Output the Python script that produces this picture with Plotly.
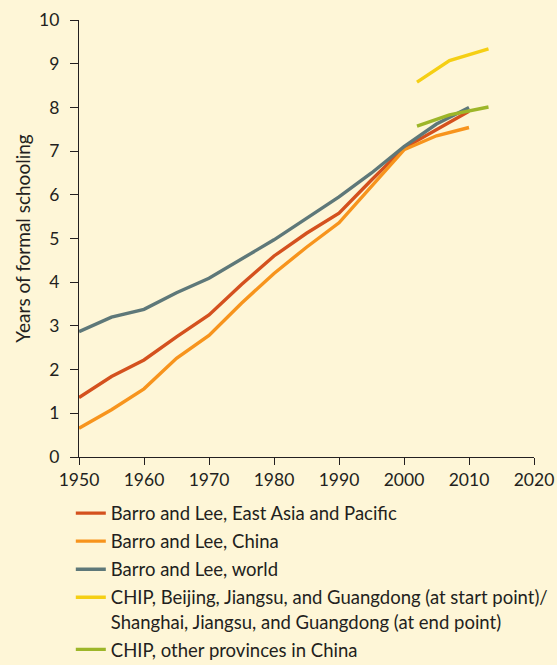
import plotly.graph_objects as go

# Años de la serie Barro y Lee (cada 5 años)
anios_bl = [1950, 1955, 1960, 1965, 1970, 1975, 1980, 1985, 1990, 1995, 2000, 2005, 2010]
asia_este = [1.36, 1.84, 2.22, 2.75, 3.25, 3.95, 4.6, 5.12, 5.58, 6.34, 7.07, 7.49, 7.91]
china = [0.66, 1.08, 1.56, 2.26, 2.78, 3.52, 4.2, 4.8, 5.36, 6.19, 7.03, 7.35, 7.54]
mundo = [2.87, 3.2, 3.38, 3.76, 4.09, 4.52, 4.97, 5.46, 5.95, 6.5, 7.1, 7.62, 8.0]

# Encuestas CHIP
anios_chip = [2002, 2007, 2013]
chip_costa = [8.58, 9.07, 9.34]
chip_otras = [7.57, 7.83, 8.01]

FONDO = "#FEF6D7"
TEXTO = "#231F20"
FUENTE = "Lato"

series = [
    ("Barro and Lee, East Asia and Pacific", anios_bl, asia_este, "#D4511E"),
    ("Barro and Lee, China", anios_bl, china, "#F7941D"),
    ("Barro and Lee, world", anios_bl, mundo, "#5E7879"),
    ("CHIP, Beijing, Jiangsu, and Guangdong (at start point)/<br>"
     "Shanghai, Jiangsu, and Guangdong (at end point)", anios_chip, chip_costa, "#F5CF14"),
    ("CHIP, other provinces in China", anios_chip, chip_otras, "#9DB629"),
]

fig = go.Figure()
for i, (nombre, x, y, color) in enumerate(series):
    fig.add_trace(go.Scatter(x=x, y=y, name=nombre, mode="lines", legendgroup=f"g{i}",
                             line=dict(color=color, width=3.4)))

fig.update_layout(
    width=557, height=665,
    paper_bgcolor=FONDO, plot_bgcolor=FONDO,
    font=dict(family=FUENTE, color=TEXTO, size=18),
    margin=dict(l=79, r=23, t=20, b=208, autoexpand=False),
    showlegend=True,
    legend=dict(
        x=-0.018, xanchor="left", y=-0.086, yanchor="top",
        bgcolor="rgba(0,0,0,0)",
        font=dict(size=18.5, family=FUENTE, color=TEXTO),
        valign="top", tracegroupgap=1, itemwidth=30,
    ),
    xaxis=dict(
        range=[1950, 2020], tickvals=list(range(1950, 2021, 10)),
        showgrid=False, zeroline=False, showline=True, linecolor=TEXTO, linewidth=1.3,
        ticks="outside", ticklen=7, tickcolor=TEXTO, tickwidth=1.3,
        tickfont=dict(size=17.5), ticklabelstandoff=0,
    ),
    yaxis=dict(
        range=[0, 10], dtick=1,
        showgrid=False, zeroline=False, showline=True, linecolor=TEXTO, linewidth=1.3,
        ticks="outside", ticklen=8, tickcolor=TEXTO, tickwidth=1.3,
        tickfont=dict(size=17.5), ticklabelstandoff=7,
        title=dict(text="Years of formal schooling", font=dict(size=19), standoff=3),
    ),
)

# el navegador deja 8px de margen en el body; se quita para que el gráfico ocupe la ventana
fig.write_html("out.html", config={"displayModeBar": False},
               post_script="document.body.style.margin='0';")
